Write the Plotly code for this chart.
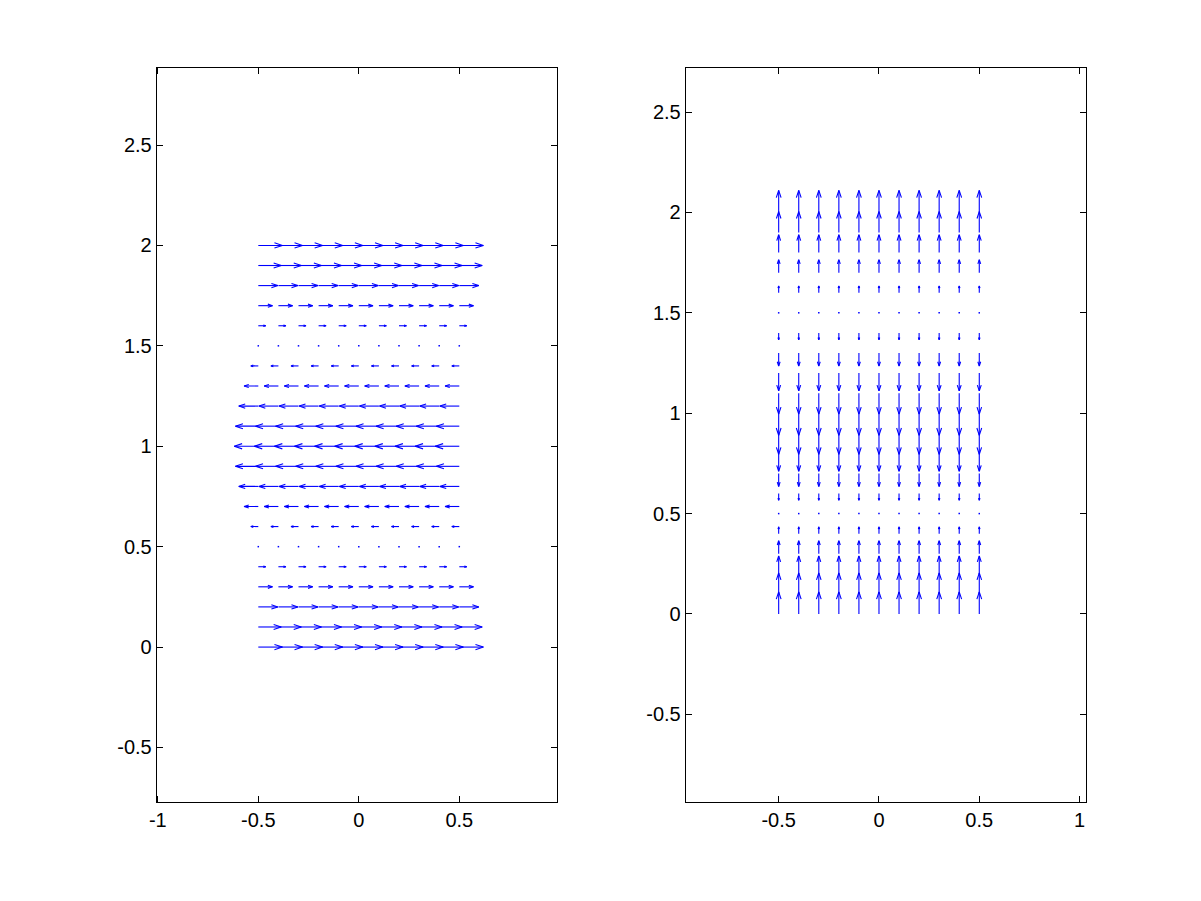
import numpy as np
import plotly.graph_objects as go

# ---- data ----
x_grid = [-0.5, -0.4, -0.3, -0.2, -0.1, 0.0, 0.1, 0.2, 0.3, 0.4, 0.5]
y_grid = [0.0, 0.1, 0.2, 0.3, 0.4, 0.5, 0.6, 0.7, 0.8, 0.9, 1.0,
          1.1, 1.2, 1.3, 1.4, 1.5, 1.6, 1.7, 1.8, 1.9, 2.0]
# left panel: horizontal component per row (vertical component is zero)
u_left_rows = [1.00, 0.95, 0.81, 0.59, 0.31, 0.00, -0.31, -0.59, -0.81, -0.95, -1.00,
               -0.95, -0.81, -0.59, -0.31, 0.00, 0.31, 0.59, 0.81, 0.95, 1.00]
# right panel: vertical component per row (horizontal component is zero)
v_right_rows = [1.00, 0.95, 0.81, 0.59, 0.31, 0.00, -0.31, -0.59, -0.81, -0.95, -1.00,
                -0.95, -0.81, -0.59, -0.31, 0.00, 0.31, 0.59, 0.81, 0.95, 1.00]

left_ticks_x = [-1, -0.5, 0, 0.5]
right_ticks_x = [-0.5, 0, 0.5, 1]
ticks_y = [-0.5, 0, 0.5, 1, 1.5, 2, 2.5]

BLUE = "rgb(0,0,255)"
SCALE_L = 0.12
SCALE_R = 0.11
ALPHA, BETA = 0.33, 0.33


def quiver_segments(U, V, scale):
    xs, ys, zx, zy = [], [], [], []
    for j, yv in enumerate(y_grid):
        for xv in x_grid:
            u = U[j] * scale
            v = V[j] * scale
            if abs(u) < 1e-9 and abs(v) < 1e-9:
                zx.append(xv); zy.append(yv)
                continue
            tx, ty = xv + u, yv + v
            xs += [xv, tx, None]
            ys += [yv, ty, None]
            xs += [tx - ALPHA * (u + BETA * v), tx, tx - ALPHA * (u - BETA * v), None]
            ys += [ty - ALPHA * (v - BETA * u), ty, ty - ALPHA * (v + BETA * u), None]
    return xs, ys, zx, zy


zeros = [0.0] * len(y_grid)
lx, ly, lzx, lzy = quiver_segments(u_left_rows, zeros, SCALE_L)
rx, ry, rzx, rzy = quiver_segments(zeros, v_right_rows, SCALE_R)

fig = go.Figure()
fig.add_trace(go.Scatter(x=lx, y=ly, mode="lines", line=dict(color=BLUE, width=1.1),
                         xaxis="x", yaxis="y", hoverinfo="skip", showlegend=False))
fig.add_trace(go.Scatter(x=lzx, y=lzy, mode="markers", marker=dict(color=BLUE, size=1.5, symbol="square"),
                         xaxis="x", yaxis="y", hoverinfo="skip", showlegend=False))
fig.add_trace(go.Scatter(x=rx, y=ry, mode="lines", line=dict(color=BLUE, width=1.1),
                         xaxis="x2", yaxis="y2", hoverinfo="skip", showlegend=False))
fig.add_trace(go.Scatter(x=rzx, y=rzy, mode="markers", marker=dict(color=BLUE, size=1.5, symbol="square"),
                         xaxis="x2", yaxis="y2", hoverinfo="skip", showlegend=False))

W, H = 1185, 885
OFF = 8


def dom_x(a, b):
    return [(a - OFF) / W, (b - OFF) / W]


def dom_y(top, bottom):
    return [(H - (bottom - OFF)) / H, (H - (top - OFF)) / H]


def fmt(v):
    return "%g" % v


axis_common = dict(showgrid=False, zeroline=False, showline=True, linecolor="black", linewidth=1,
                   mirror="ticks", ticks="inside", ticklen=6, tickcolor="black", tickwidth=1,
                   automargin=False,
                   tickfont=dict(family="Liberation Sans, Arial, sans-serif", size=20, color="black"))

fig.update_layout(
    width=W, height=H,
    margin=dict(l=0, r=0, t=0, b=0),
    paper_bgcolor="white", plot_bgcolor="white",
    xaxis=dict(domain=dom_x(156.7, 557.3), range=[-1.0055, 0.9876], anchor="y",
               tickvals=left_ticks_x, ticktext=[fmt(v) for v in left_ticks_x], **axis_common),
    yaxis=dict(domain=dom_y(67.5, 802.3), range=[-0.773, 2.886], anchor="x",
               tickvals=ticks_y, ticktext=[fmt(v) for v in ticks_y], **axis_common),
    xaxis2=dict(domain=dom_x(685.7, 1086.3), range=[-0.9635, 1.0335], anchor="y2",
                tickvals=right_ticks_x, ticktext=[fmt(v) for v in right_ticks_x], **axis_common),
    yaxis2=dict(domain=dom_y(67.5, 802.3), range=[-0.938, 2.722], anchor="x2",
                tickvals=ticks_y, ticktext=[fmt(v) for v in ticks_y], **axis_common),
)

fig.write_html("out.html")
